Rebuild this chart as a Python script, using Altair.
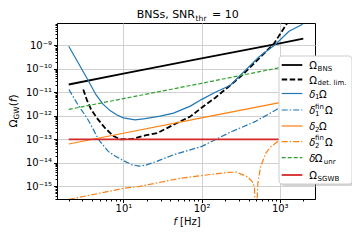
import altair as alt
import pandas as pd

# ---------------- data ----------------
bns_f = [2, 10, 100, 1000, 2000]
bns_v = [2.14e-11, 6.17e-11, 2.75e-10, 1.20e-9, 1.91e-9]

det_f = [3.07, 3.42, 3.85, 4.59, 5.82, 7.45, 9.08, 12.8, 19.0, 26.9, 43.9, 71.8,
         101, 150, 234, 331, 541, 843, 1312]
det_v = [1.32e-11, 4.62e-12, 1.91e-12, 7.94e-13, 3.02e-13, 1.38e-13, 1.0e-13, 1.02e-13,
         1.45e-13, 1.82e-13, 4.17e-13, 9.33e-13, 2.24e-12, 5.89e-12, 2.0e-11, 5.37e-11,
         2.72e-10, 1.17e-9, 1.15e-8]

d1_f = [2.0, 2.62, 3.55, 4.46, 5.49, 6.75, 8.3, 10, 14.1, 19, 29.6, 43.8, 71.8, 101,
        150, 234, 331, 541, 886, 1313, 1968]
d1_v = [9.08e-10, 1.90e-10, 3.17e-11, 7.91e-12, 3.13e-12, 1.66e-12, 1.07e-12, 8.11e-13,
        6.73e-13, 7.57e-13, 9.66e-13, 1.30e-12, 2.57e-12, 5.00e-12, 1.01e-11, 2.00e-11,
        6.28e-11, 3.18e-10, 1.10e-9, 3.93e-9, 7.80e-9]

d1fin_f = [2.01, 2.62, 3.45, 4.08, 4.77, 5.49, 6.41, 7.82, 9.53, 12.8, 15.9, 19.0, 26.3,
           43.9, 101, 234, 490, 977, 2000]
d1fin_v = [1.32e-11, 2.97e-12, 7.71e-13, 2.84e-13, 1.02e-13, 5.68e-14, 3.06e-14, 1.94e-14,
           1.35e-14, 8.26e-15, 7.28e-15, 7.80e-15, 1.13e-14, 2.20e-14, 5.00e-14, 2.02e-13,
           5.75e-13, 2.11e-12, 7.9e-12]

d2_f = [2, 10, 100, 1000, 2000]
d2_v = [6.31e-14, 1.80e-13, 8.13e-13, 3.63e-12, 5.62e-12]

d2fin_f = [2, 10, 16.4, 53.5, 212, 280, 384, 445, 476, 490, 525, 569, 661, 766, 931,
           1300, 2000]
d2fin_v = [2.75e-16, 8.13e-16, 1.0e-15, 2.19e-15, 3.89e-15, 3.98e-15, 2.57e-15, 1.58e-15,
           9.55e-16, 1e-17, 1.35e-15, 6.76e-15, 2.51e-14, 4.79e-14, 7.76e-14, 1.41e-13,
           2.51e-13]

unr_f = [2, 10, 100, 300, 600, 1000, 2000]
unr_v = [1.86e-12, 5.37e-12, 2.40e-11, 5.01e-11, 7.94e-11, 1.12e-10, 2.0e-10]

sgwb_f = [2, 2000]
sgwb_v = [1e-13, 1e-13]

x_domain = [1.416, 2825]
y_domain = [2.88e-16, 8.85e-9]
y_major_exp = [-15, -14, -13, -12, -11, -10, -9]

# ---------------- styling ----------------
BLUE, ORANGE, GREEN, RED = "#1f77b4", "#ff7f0e", "#2ca02c", "#d62728"
FONT = "DejaVu Sans"
OX, OY = 57, 23  # page position of plot origin

x_ticks = [m * 10 ** k for k in range(0, 4) for m in range(1, 10)
           if x_domain[0] <= m * 10 ** k <= x_domain[1]]
y_ticks = [m * 10.0 ** k for k in range(-16, -8) for m in range(1, 10)
           if y_domain[0] <= m * 10.0 ** k <= y_domain[1]]

MAJOR = "abs(log(datum.value)/LN10 - round(log(datum.value)/LN10)) < 0.01"
EXP = "round(log(datum.value)/LN10)"
SUP = {'-': '⁻', '0': '⁰', '1': '¹', '2': '²', '3': '³', '4': '⁴', '5': '⁵',
       '6': '⁶', '7': '⁷', '8': '⁸', '9': '⁹'}


def sup_str(n):
    return ''.join(SUP[c] for c in str(n))


def label_expr(exps):
    s = "''"
    for e in exps:
        s = f"({EXP} == {e}) ? '10{sup_str(e)}' : ({s})"
    return f"({MAJOR}) ? ({s}) : ''"


def make_axis(values, exps, pad):
    return alt.Axis(
        values=values, labelExpr=label_expr(exps), title=None,
        grid=True, gridColor="#d0d0d0", gridWidth=1,
        gridOpacity={"condition": {"test": MAJOR, "value": 1}, "value": 0},
        tickSize={"condition": {"test": MAJOR, "value": 3.5}, "value": 2},
        tickColor="black", tickWidth=1, domainColor="black", domainWidth=1,
        labelFont=FONT, labelFontSize=10, labelColor="black", labelPadding=pad,
        labelOverlap=False, labelFlush=False,
    )


x_axis = make_axis(x_ticks, [1, 2, 3], 1)
y_axis = make_axis(y_ticks, y_major_exp, 2)
xs = alt.Scale(type="log", domain=x_domain, nice=False)
ys = alt.Scale(type="log", domain=y_domain, nice=False)


def line(fs, vs, color, width, dash=None):
    df = pd.DataFrame({"f": fs, "v": vs})
    kw = dict(color=color, strokeWidth=width, clip=True)
    if dash:
        kw["strokeDash"] = dash
    return alt.Chart(df).mark_line(**kw).encode(
        x=alt.X("f:Q", scale=xs, axis=x_axis),
        y=alt.Y("v:Q", scale=ys, axis=y_axis),
    )


DASH = [5.5, 2.5]
GDASH = [4, 2]
DDOT = [6, 2, 1.5, 2]

layers = [
    line(bns_f, bns_v, "black", 1.8),
    line(det_f, det_v, "black", 1.8, DASH),
    line(d1_f, d1_v, BLUE, 1.2),
    line(d1fin_f, d1fin_v, BLUE, 1.2, DDOT),
    line(d2_f, d2_v, ORANGE, 1.2),
    line(d2fin_f, d2fin_v, ORANGE, 1.2, DDOT),
    line(unr_f, unr_v, GREEN, 1.2, GDASH),
    line(sgwb_f, sgwb_v, RED, 1.8),
]

dummy = pd.DataFrame({"d": [0]})


def txt(s, x, y, size=10, align="left", style="normal", angle=None):
    kw = dict(text=s, fontSize=size, align=align, baseline="alphabetic",
              font=FONT, color="black", fontStyle=style)
    if angle is not None:
        kw["angle"] = angle
    return alt.Chart(dummy).mark_text(**kw).encode(
        x=alt.value(x - OX), y=alt.value(y - OY))


# title
layers += [
    txt("BNSs, SNR", 195, 18.3, 11, align="right"),
    txt("thr", 195.5, 20.8, 7.7),
    txt("= 10", 212, 18.3, 11),
]
# x label
layers += [
    txt("f", 177, 224.8, 10, align="right", style="italic"),
    txt("[Hz]", 180, 224.8, 10),
]
# y label (rotated, reads bottom to top)
YLX = 17.0
layers += [
    txt("Ω", YLX, 127.5, 10.5, angle=270),
    txt("GW", YLX + 1.6, 119.5, 7.35, angle=270),
    txt("(", YLX, 106.3, 10.5, angle=270),
    txt("f", YLX, 102.2, 10.5, style="italic", angle=270),
    txt(")", YLX, 98.4, 10.5, angle=270),
]

# legend box
layers += [
    alt.Chart(dummy).mark_rect(fill="#888888", opacity=0.35, cornerRadius=3).encode(
        x=alt.value(281 - OX), x2=alt.value(354 - OX),
        y=alt.value(58 - OY), y2=alt.value(186 - OY)),
    alt.Chart(dummy).mark_rect(fill="white", stroke="#cccccc", strokeWidth=1,
                               cornerRadius=3).encode(
        x=alt.value(279 - OX), x2=alt.value(352 - OX),
        y=alt.value(56 - OY), y2=alt.value(184 - OY)),
]

rows = [65, 79.5, 93.5, 110, 126, 141.7, 157.7, 175]
samples = [("black", 1.8, None), ("black", 1.8, DASH), (BLUE, 1.2, None), (BLUE, 1.2, DDOT),
           (ORANGE, 1.2, None), (ORANGE, 1.2, DDOT), (GREEN, 1.2, GDASH), (RED, 1.8, None)]
for ry, (c, w, d) in zip(rows, samples):
    kw = dict(color=c, strokeWidth=w)
    if d:
        kw["strokeDash"] = d
    layers.append(alt.Chart(dummy).mark_rule(**kw).encode(
        x=alt.value(281.7 - OX), x2=alt.value(302.3 - OX), y=alt.value(ry - OY)))

TX = 309.3
for i, ry in enumerate(rows):
    b = ry + 4.0
    if i == 0:
        layers += [txt("Ω", TX, b), txt("BNS", TX + 8.3, b + 1.8, 7)]
    elif i == 1:
        layers += [txt("Ω", TX, b), txt("det. lim.", TX + 8.3, b + 1.8, 7)]
    elif i in (2, 4):
        n = "1" if i == 2 else "2"
        layers += [txt("δ", TX, b, style="italic"), txt(n, TX + 5.7, b + 1.8, 7),
                   txt("Ω", TX + 9.8, b)]
    elif i in (3, 5):
        n = "1" if i == 3 else "2"
        layers += [txt("δ", TX, b, style="italic"), txt(n, TX + 5.7, b + 1.8, 7),
                   txt("fin", TX + 5.7, b - 5.5, 7), txt("Ω", TX + 15.7, b)]
    elif i == 6:
        layers += [txt("δ", TX, b, style="italic"), txt("Ω", TX + 5.4, b),
                   txt("unr", TX + 14.5, b + 1.8, 7)]
    else:
        layers += [txt("Ω", TX, b), txt("SGWB", TX + 8.3, b + 1.8, 7)]

chart = alt.layer(*layers).properties(
    width=258, height=176,
    autosize=alt.AutoSizeParams(type="none"),
    padding={"left": 49, "top": 15, "right": 37, "bottom": 33},
    background="white",
).configure_view(stroke="black", strokeWidth=1)

chart.save("out.html", embed_options={"renderer": "svg", "actions": False})
